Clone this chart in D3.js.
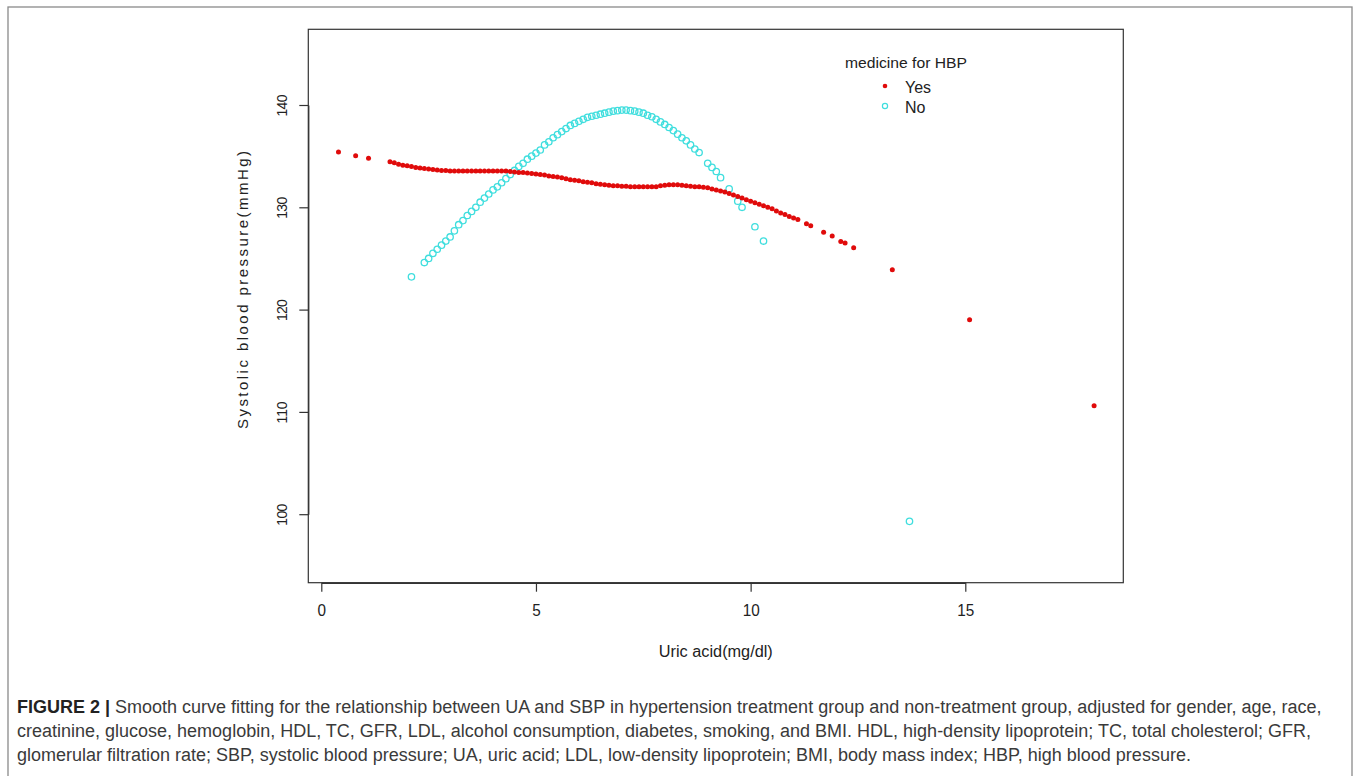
<!DOCTYPE html>
<html><head><meta charset="utf-8">
<script src="https://cdn.jsdelivr.net/npm/d3@7/dist/d3.min.js"></script>
<style>body{margin:0;background:#fff}svg{display:block}</style>
</head><body><svg id="c" width="1358" height="776"></svg>
<script>
// ---- data ----
const xTicks = [0, 5, 10, 15];
const yTicks = [100, 110, 120, 130, 140];
const seriesNames = ["Yes", "No"];
const legendTitle = "medicine for HBP";

// medicine for HBP = Yes (filled red points)
const yesX = [0.4,0.8,1.1,1.6,1.7,1.8,1.9,2.0,2.1,2.2,2.3,2.4,2.5,2.6,2.7,2.8,2.9,3.0,3.1,3.2,3.3,3.4,3.5,3.6,3.7,3.8,3.9,4.0,4.1,4.2,4.3,4.4,4.5,4.6,4.7,4.8,4.9,5.0,5.1,5.2,5.3,5.4,5.5,5.6,5.7,5.8,5.9,6.0,6.1,6.2,6.3,6.4,6.5,6.6,6.7,6.8,6.9,7.0,7.1,7.2,7.3,7.4,7.5,7.6,7.7,7.8,7.9,8.0,8.1,8.2,8.3,8.4,8.5,8.6,8.7,8.8,8.9,9.0,9.1,9.2,9.3,9.4,9.5,9.6,9.7,9.8,9.9,10.0,10.1,10.2,10.3,10.4,10.5,10.6,10.7,10.8,10.9,11.0,11.1,11.3,11.4,11.7,11.9,12.1,12.2,12.4,13.3,15.1,18.0];
const yesY = [135.4,135.05,134.8,134.45,134.35,134.2,134.1,134.05,134.0,133.9,133.85,133.8,133.75,133.7,133.65,133.6,133.6,133.55,133.55,133.55,133.55,133.55,133.55,133.55,133.55,133.55,133.55,133.55,133.55,133.55,133.55,133.5,133.45,133.4,133.4,133.35,133.3,133.25,133.2,133.15,133.05,133.0,132.95,132.9,132.8,132.7,132.65,132.6,132.5,132.45,132.4,132.3,132.25,132.2,132.15,132.1,132.1,132.05,132.05,132.0,132.0,132.0,132.0,132.0,132.0,132.0,132.1,132.15,132.2,132.2,132.2,132.15,132.1,132.05,132.0,132.0,131.95,131.9,131.8,131.7,131.6,131.5,131.35,131.2,131.05,130.9,130.75,130.6,130.45,130.3,130.15,130.0,129.85,129.65,129.45,129.3,129.1,128.95,128.8,128.4,128.2,127.55,127.2,126.65,126.5,126.05,123.9,119.0,110.6];

// medicine for HBP = No (open cyan circles)
const noX = [2.1,2.4,2.5,2.6,2.7,2.8,2.9,3.0,3.1,3.2,3.3,3.4,3.5,3.6,3.7,3.8,3.9,4.0,4.1,4.2,4.3,4.4,4.5,4.6,4.7,4.8,4.9,5.0,5.1,5.2,5.3,5.4,5.5,5.6,5.7,5.8,5.9,6.0,6.1,6.2,6.3,6.4,6.5,6.6,6.7,6.8,6.9,7.0,7.1,7.2,7.3,7.4,7.5,7.6,7.7,7.8,7.9,8.0,8.1,8.2,8.3,8.4,8.5,8.6,8.7,8.8,9.0,9.1,9.2,9.3,9.5,9.7,9.8,10.1,10.3,13.7];
const noY = [123.2,124.6,125.0,125.5,125.9,126.3,126.7,127.1,127.7,128.3,128.7,129.2,129.6,130.0,130.5,130.9,131.3,131.7,132.0,132.4,132.8,133.2,133.6,134.0,134.3,134.7,135.0,135.3,135.6,136.1,136.4,136.8,137.1,137.4,137.7,138.0,138.2,138.4,138.6,138.8,138.9,139.0,139.1,139.2,139.3,139.4,139.45,139.5,139.5,139.45,139.4,139.3,139.2,139.0,138.85,138.6,138.35,138.1,137.8,137.5,137.15,136.8,136.5,136.1,135.7,135.35,134.3,133.9,133.5,132.9,131.8,130.6,130.0,128.1,126.7,99.3];

const captionLines = [
  ["FIGURE 2 |", " Smooth curve fitting for the relationship between UA and SBP in hypertension treatment group and non-treatment group, adjusted for gender, age, race,"],
  ["", "creatinine, glucose, hemoglobin, HDL, TC, GFR, LDL, alcohol consumption, diabetes, smoking, and BMI. HDL, high-density lipoprotein; TC, total cholesterol; GFR,"],
  ["", "glomerular filtration rate; SBP, systolic blood pressure; UA, uric acid; LDL, low-density lipoprotein; BMI, body mass index; HBP, high blood pressure."]
];
const axisTitleX = "Uric acid(mg/dl)";
const axisTitleY = "Systolic blood pressure(mmHg)";

// ---- drawing ----
const svg = d3.select("#c");
const RED = "#e00b0b", CYAN = "#3fdede";
const font = "'Liberation Sans', Arial, sans-serif";

// outer figure frame
svg.append("rect").attr("x", 8).attr("y", 7).attr("width", 1344).attr("height", 780)
  .attr("fill", "none").attr("stroke", "#8a8a8a").attr("stroke-width", 1.3);

const box = {l: 308.3, t: 29.3, r: 1123.3, b: 582.7};
const x = d3.scaleLinear().domain([0, 15]).range([321.3, 965.3]);
const y = d3.scaleLinear().domain([100, 140]).range([514.2, 105]);

// plot box
svg.append("rect").attr("x", box.l).attr("y", box.t).attr("width", box.r - box.l).attr("height", box.b - box.t)
  .attr("fill", "none").attr("stroke", "#333").attr("stroke-width", 1.2);

// x axis
const gx = svg.append("g").attr("transform", `translate(0,${box.b})`)
  .call(d3.axisBottom(x).tickValues(xTicks).tickSize(9).tickSizeOuter(0).tickFormat(d3.format("d")));
gx.select(".domain").attr("stroke", "#333").attr("stroke-width", 1.6);
gx.selectAll(".tick line").attr("stroke", "#333").attr("stroke-width", 1.2);
gx.selectAll(".tick text").attr("font-family", font).attr("font-size", 16).attr("fill", "#222")
  .attr("y", 22).attr("dy", "0.71em")
  .attr("textLength", d => String(d).length * 8.5).attr("lengthAdjust", "spacingAndGlyphs");

// y axis
const gy = svg.append("g").attr("transform", `translate(${box.l},0)`)
  .call(d3.axisLeft(y).tickValues(yTicks).tickSize(9).tickSizeOuter(0).tickFormat(d3.format("d")));
gy.select(".domain").attr("stroke", "#333").attr("stroke-width", 1.2);
gy.selectAll(".tick line").attr("stroke", "#333").attr("stroke-width", 1.2);
gy.selectAll(".tick text").attr("font-family", font).attr("font-size", 14).attr("fill", "#222")
  .attr("x", null).attr("dy", null)
  .attr("text-anchor", "middle")
  .attr("transform", "translate(-26,0) rotate(-90)")
  .attr("y", 0).attr("dominant-baseline", "central")
  .attr("textLength", 22).attr("lengthAdjust", "spacing");

// axis titles
svg.append("text").attr("x", (box.l + box.r) / 2).attr("y", 657)
  .attr("text-anchor", "middle").attr("font-family", font).attr("font-size", 16).attr("fill", "#222")
  .attr("textLength", 114).attr("lengthAdjust", "spacingAndGlyphs").text(axisTitleX);
svg.append("text").attr("transform", `translate(248,${(box.t + box.b) / 2 - 16}) rotate(-90)`)
  .attr("text-anchor", "middle").attr("font-family", font).attr("font-size", 15).attr("fill", "#222")
  .attr("textLength", 278).attr("lengthAdjust", "spacing").text(axisTitleY);

// points
const plot = svg.append("g");
plot.selectAll("circle.no").data(noX.map((v, i) => [v, noY[i]])).join("circle")
  .attr("class", "no").attr("cx", d => x(d[0])).attr("cy", d => y(d[1])).attr("r", 3.2)
  .attr("fill", "none").attr("stroke", CYAN).attr("stroke-width", 1.3);
plot.selectAll("circle.yes").data(yesX.map((v, i) => [v, yesY[i]])).join("circle")
  .attr("class", "yes").attr("cx", d => x(d[0])).attr("cy", d => y(d[1])).attr("r", 2.5)
  .attr("fill", RED);

// legend
const lg = svg.append("g");
lg.append("text").attr("x", 906).attr("y", 68).attr("text-anchor", "middle")
  .attr("font-family", font).attr("font-size", 15).attr("fill", "#222")
  .attr("textLength", 122).attr("lengthAdjust", "spacingAndGlyphs").text(legendTitle);
lg.append("circle").attr("cx", 885).attr("cy", 86).attr("r", 2.3).attr("fill", RED);
lg.append("circle").attr("cx", 885).attr("cy", 106).attr("r", 2.6).attr("fill", "none").attr("stroke", CYAN).attr("stroke-width", 1.2);
lg.append("text").attr("x", 905).attr("y", 93).attr("font-family", font).attr("font-size", 16).attr("fill", "#222").text(seriesNames[0]);
lg.append("text").attr("x", 905).attr("y", 113).attr("font-family", font).attr("font-size", 16).attr("fill", "#222").text(seriesNames[1]);

// caption: font size fitted so line 1 spans the measured width
const capTarget = 1316;
const probe = svg.append("text").attr("x", 17).attr("y", 713)
  .attr("font-family", font).attr("font-size", 15);
probe.append("tspan").attr("font-weight", "bold").text(captionLines[0][0]);
probe.append("tspan").text(captionLines[0][1]);
const w15 = probe.node().getComputedTextLength();
probe.remove();
const capSize = Math.min(18, 15 * capTarget / w15);
captionLines.forEach((ln, i) => {
  const t = svg.append("text").attr("x", 17).attr("y", 713 + i * 24.2)
    .attr("font-family", font).attr("font-size", capSize).attr("fill", "#3a3a3a");
  if (ln[0]) t.append("tspan").attr("font-weight", "bold").attr("fill", "#222").text(ln[0]);
  t.append("tspan").text(ln[1]);
});
</script></body></html>
